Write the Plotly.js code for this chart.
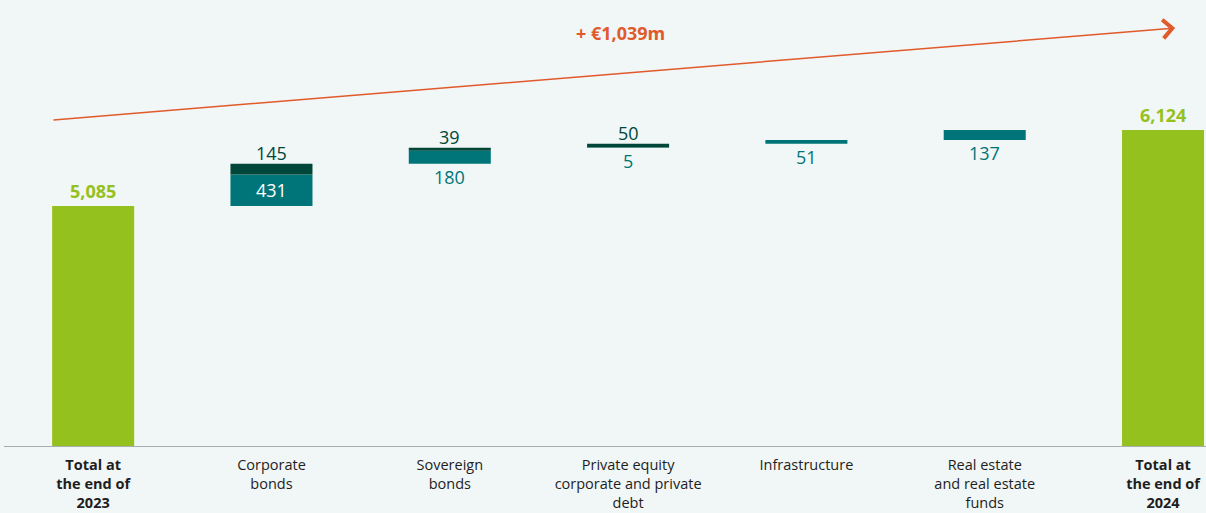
<!DOCTYPE html>
<html>
<head>
<meta charset="utf-8">
<script src="https://cdn.plot.ly/plotly-3.0.1.min.js"></script>
<style>
html,body{margin:0;padding:0;background:#F1F6F6;}
#chart{width:1206px;height:513px;}
</style>
</head>
<body>
<div id="chart"></div>
<script>
// ---- data ----
const categories = ["Total 2023","Corporate bonds","Sovereign bonds","Private equity","Infrastructure","Real estate","Total 2024"];
const tickLabels = [
  "<b>Total at<br>the end of<br>2023</b>",
  "Corporate<br>bonds",
  "Sovereign<br>bonds",
  "Private equity<br>corporate and private<br>debt",
  "Infrastructure",
  "Real estate<br>and real estate<br>funds",
  "<b>Total at<br>the end of<br>2024</b>"
];
const totalStart = 5085;
const totalEnd = 6124;
const tealValues = [null, 431, 180, 5, 51, 137, null];
const darkValues = [null, 145, 39, 50, 0, 0, null];
const totalLabel = "+ €1,039m";

// ---- colours ----
const GREEN = "#95C11F", TEAL = "#007579", DARK = "#00473A", ORANGE = "#E05A2B";

// ---- compute bases ----
const idx = categories.map((_, i) => i);
const tealBase = [], darkBase = [];
let run = totalStart;
for (let i = 0; i < categories.length; i++) {
  if (tealValues[i] == null) { tealBase.push(null); darkBase.push(null); continue; }
  tealBase.push(run); run += tealValues[i];
  darkBase.push(run); run += darkValues[i];
}
const totals = [totalStart, null, null, null, null, null, totalEnd];

const W = 0.46;
const traces = [
  {type:"bar", x: idx, y: totals, marker:{color:GREEN}, width:W, hoverinfo:"skip"},
  {type:"bar", x: idx, y: tealValues, base: tealBase, marker:{color:TEAL}, width:W, hoverinfo:"skip"},
  {type:"bar", x: idx, y: darkValues.map(v => v === 0 ? null : v), base: darkBase, marker:{color:DARK}, width:W, hoverinfo:"skip"}
];

const FONT = "'Open Sans', Lato, sans-serif";
const ann = [];
// totals labels
[0, 6].forEach(i => {
  ann.push({x:i, y:totals[i], text:"<b>"+totals[i].toLocaleString("en-US")+"</b>", showarrow:false,
    yanchor:"bottom", yshift:1, font:{family:FONT, size:18, color:GREEN}});
});
for (let i = 0; i < categories.length; i++) {
  if (tealValues[i] == null) continue;
  const top = darkBase[i] + darkValues[i];
  if (darkValues[i] > 0) {
    ann.push({x:i, y:top, text:String(darkValues[i]), showarrow:false, yanchor:"bottom", yshift:-3,
      font:{family:FONT, size:18, color:DARK}});
  }
  if (tealValues[i] > 300) {
    ann.push({x:i, y:tealBase[i] + tealValues[i]/2, text:String(tealValues[i]), showarrow:false, yanchor:"middle",
      font:{family:FONT, size:18, color:"#ffffff"}});
  } else {
    ann.push({x:i, y:tealBase[i], text:String(tealValues[i]), showarrow:false, yanchor:"top", yshift:1,
      font:{family:FONT, size:18, color:TEAL}});
  }
}
// growth arrow
ann.push({x:6.068, y:7518, ax:-0.231, ay:6260, axref:"x", ayref:"y", xref:"x", yref:"y",
  showarrow:true, arrowhead:4, arrowsize:2.4, arrowwidth:1.5, arrowcolor:ORANGE, text:""});
ann.push({x:0.5125, y:0.926, xref:"paper", yref:"paper", yanchor:"middle", text:"<b>"+totalLabel+"</b>", showarrow:false,
  font:{family:FONT, size:18, color:ORANGE}});

const layout = {
  width:1206, height:513,
  margin:{l:4, r:0, t:0, b:67},
  paper_bgcolor:"#F1F6F6", plot_bgcolor:"#F1F6F6",
  showlegend:false, barmode:"overlay",
  xaxis:{range:[-0.5, 6.241], tickvals: idx, ticktext: tickLabels, showgrid:false, zeroline:false,
    showline:true, linecolor:"#A7AEAE", linewidth:1, ticks:"", ticklabelstandoff:6,
    tickfont:{family:FONT, size:14.5, color:"#1E1E1E"}, fixedrange:true},
  yaxis:{range:[1804, 7901], visible:false, fixedrange:true},
  annotations: ann
};
Plotly.newPlot("chart", traces, layout, {displayModeBar:false, staticPlot:true});
</script>
</body>
</html>
